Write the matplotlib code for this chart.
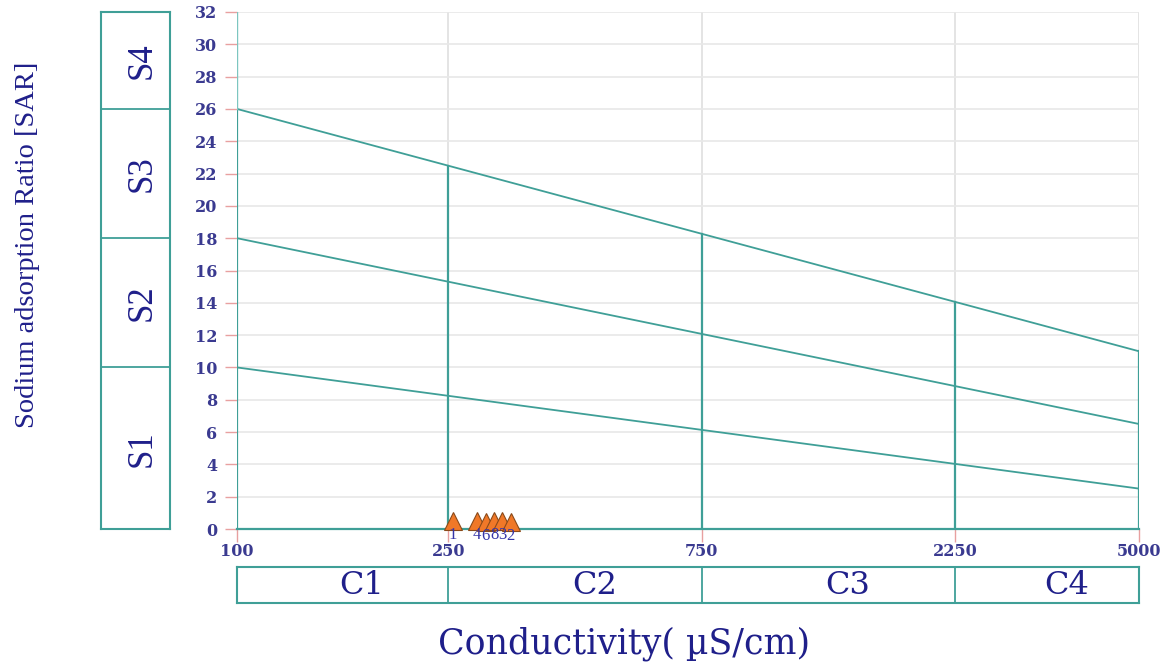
import matplotlib
matplotlib.use('Agg')
import matplotlib.pyplot as plt
import numpy as np

# salinity / sodium hazard class limits
ec_ticks = [100, 250, 750, 2250, 5000]
c_classes = ['C1', 'C2', 'C3', 'C4']
s_limits = [0, 10, 18, 26, 32]
s_classes = ['S1', 'S2', 'S3', 'S4']

# class boundary lines (SAR at EC=100 and EC=5000)
line_start = [10, 18, 26]
line_end = [2.5, 6.5, 11]

# samples
sample_ec = [255, 283, 294, 305, 316, 328]
sample_sar = [0.5, 0.5, 0.45, 0.5, 0.5, 0.45]
sample_id = ['1', '4', '6', '8', '3', '2']

teal = '#3f9f97'
navy = '#1f1f8a'
tickc = '#3a3a90'
serif = 'Liberation Serif'

fig = plt.figure(figsize=(11.65, 6.64), dpi=100)
W, H = 1165., 664.

def box(x0, y0, x1, y1):
    return [x0 / W, 1 - y1 / H, (x1 - x0) / W, (y1 - y0) / H]

ax = fig.add_axes(box(237, 12, 1139, 529))
ax.set_xscale('log')
ax.set_xlim(100, 5000)
ax.set_ylim(0, 32)

# grid
for v in ec_ticks:
    ax.axvline(v, color='#e2e2e2', lw=1.3, zorder=0)
for v in range(2, 33, 2):
    ax.axhline(v, color='#e8e8e8', lw=1.2, zorder=0)

# diagonal boundaries
lx = np.array([100, 5000])
for a, b in zip(line_start, line_end):
    ax.plot(lx, [a, b], color=teal, lw=1.3, zorder=2)

# vertical segments up to the top line
top = lambda x: line_start[2] + (line_end[2] - line_start[2]) * (np.log10(x) - 2) / (np.log10(5000) - 2)
for v in ec_ticks:
    ax.plot([v, v], [0, top(v)], color=teal, lw=1.6, zorder=2)
ax.plot([100, 100], [top(100), 32], color='#7cc6c0', lw=1.0, zorder=2)

for s in ['top', 'right', 'left']:
    ax.spines[s].set_visible(False)
ax.spines['bottom'].set_color(teal)
ax.spines['bottom'].set_linewidth(1.6)

ax.set_xticks(ec_ticks)
ax.set_xticklabels([str(v) for v in ec_ticks])
ax.xaxis.set_minor_locator(matplotlib.ticker.NullLocator())
ax.set_yticks(range(0, 33, 2))
ax.tick_params(axis='both', colors='#e8a0a0', length=9, width=1)
for lab in ax.get_xticklabels() + ax.get_yticklabels():
    lab.set_color(tickc)
    lab.set_fontfamily('DejaVu Serif')
    lab.set_fontsize(11.5)
    lab.set_fontweight('bold')
ax.tick_params(axis='x', pad=1)
ax.tick_params(axis='y', pad=5)

# samples
ax.plot(sample_ec, sample_sar, linestyle='none', marker='^', markersize=13,
        markerfacecolor='#f07828', markeredgecolor='#8a4a1a', markeredgewidth=0.8,
        zorder=5, clip_on=False)
for x, y, t in zip(sample_ec, sample_sar, sample_id):
    ax.annotate(t, (x, y), xytext=(-3, -10), textcoords='offset points',
                color='#3535a8', fontsize=12, fontfamily=serif, zorder=6,
                ha='left', va='center', annotation_clip=False)

# sodium hazard box
axs = fig.add_axes(box(101, 12, 170, 529))
axs.set_xlim(0, 1)
axs.set_ylim(0, 32)
axs.set_xticks([])
axs.set_yticks([])
for s in axs.spines.values():
    s.set_color(teal)
    s.set_linewidth(1.5)
for v in s_limits[1:-1]:
    axs.axhline(v, color=teal, lw=1.3)
for i, name in enumerate(s_classes):
    axs.text(0.6, (s_limits[i] + s_limits[i + 1]) / 2, name, rotation=90,
             ha='center', va='center', color=navy, fontsize=25, fontfamily=serif)

# salinity hazard box
axc = fig.add_axes(box(237, 567, 1139, 603))
axc.set_xscale('log')
axc.set_xlim(100, 5000)
axc.set_ylim(0, 1)
axc.set_xticks([])
axc.set_yticks([])
axc.xaxis.set_minor_locator(matplotlib.ticker.NullLocator())
for s in axc.spines.values():
    s.set_color(teal)
    s.set_linewidth(1.5)
for v in ec_ticks[1:-1]:
    axc.axvline(v, color=teal, lw=1.3)
for i, name in enumerate(c_classes):
    xm = np.sqrt(ec_ticks[i] * ec_ticks[i + 1])
    axc.annotate(name, (xm, 0.5), xytext=(14, 0), textcoords='offset points',
                 ha='center', va='center', color=navy, fontsize=23, fontfamily='DejaVu Serif')

fig.text(28 / W, 1 - 245 / H, 'Sodium adsorption Ratio [SAR]', rotation=90,
         ha='center', va='center', color=navy, fontsize=20.5, fontfamily=serif)
fig.text(624 / W, 1 - 644 / H, 'Conductivity( \u00b5S/cm)', ha='center', va='center',
         color=navy, fontsize=25, fontfamily='DejaVu Serif')

fig.savefig('out.png', dpi=100)
